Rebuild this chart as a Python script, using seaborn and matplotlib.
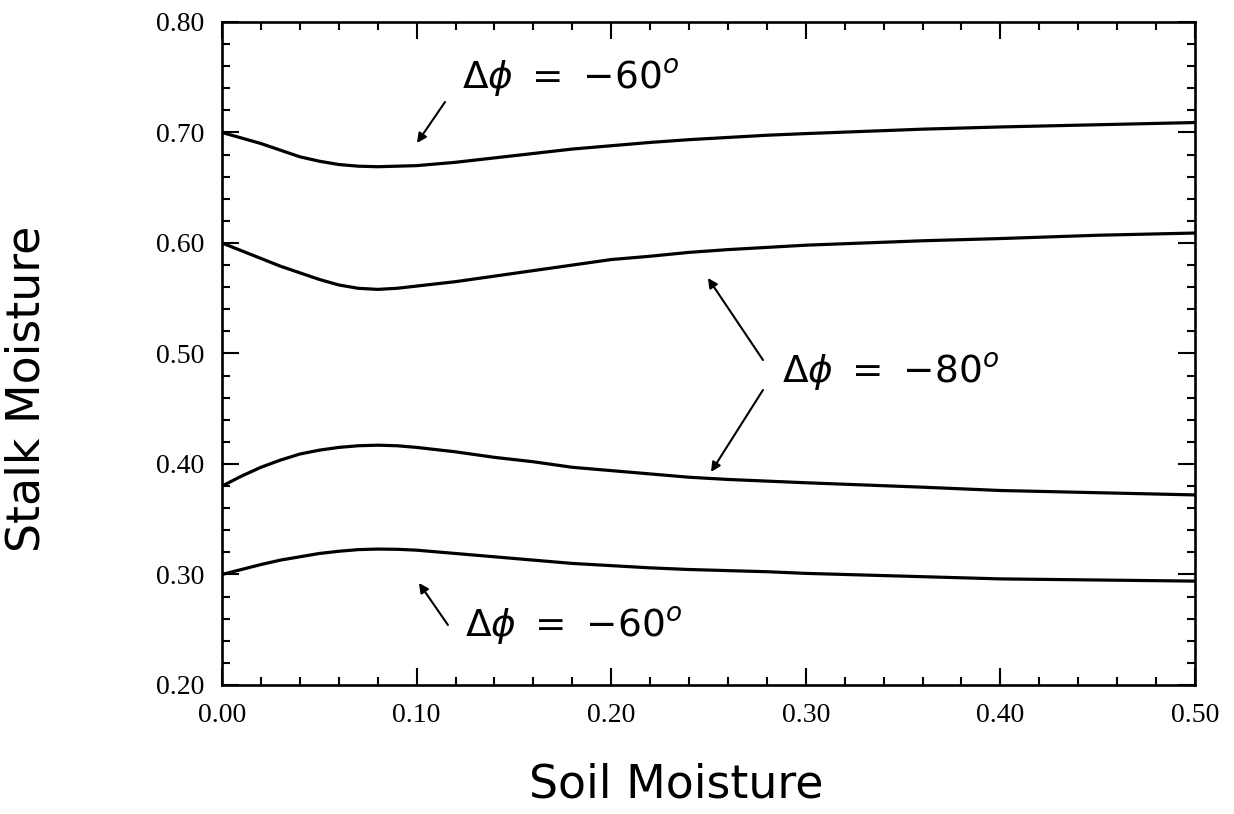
import numpy as np
import pandas as pd
import matplotlib
matplotlib.use("Agg")
import matplotlib.pyplot as plt
from matplotlib.ticker import MultipleLocator, FormatStrFormatter
import seaborn as sns

# ---- data ----
soil_moisture = [0.00, 0.01, 0.02, 0.03, 0.04, 0.05, 0.06, 0.07, 0.08, 0.09,
                 0.10, 0.11, 0.12, 0.13, 0.14, 0.15, 0.16, 0.17, 0.18, 0.19,
                 0.20, 0.22, 0.24, 0.26, 0.28, 0.30, 0.33, 0.36, 0.40, 0.45, 0.50]

stalk_a = [0.700, 0.695, 0.690, 0.684, 0.678, 0.674, 0.671, 0.6695, 0.669, 0.6695,
           0.670, 0.6715, 0.673, 0.675, 0.677, 0.679, 0.681, 0.683, 0.685, 0.6865,
           0.688, 0.691, 0.6935, 0.6955, 0.6975, 0.699, 0.701, 0.703, 0.705, 0.707, 0.709]
stalk_b = [0.600, 0.593, 0.586, 0.579, 0.573, 0.567, 0.562, 0.559, 0.558, 0.559,
           0.561, 0.563, 0.565, 0.5675, 0.570, 0.5725, 0.575, 0.5775, 0.580, 0.5825,
           0.585, 0.588, 0.5915, 0.594, 0.596, 0.598, 0.600, 0.602, 0.604, 0.607, 0.609]
stalk_c = [0.380, 0.389, 0.397, 0.4035, 0.409, 0.4125, 0.415, 0.4165, 0.417, 0.4165,
           0.415, 0.413, 0.411, 0.4085, 0.406, 0.404, 0.402, 0.3995, 0.397, 0.3955,
           0.394, 0.391, 0.388, 0.386, 0.3845, 0.383, 0.381, 0.379, 0.376, 0.374, 0.372]
stalk_d = [0.300, 0.3045, 0.309, 0.313, 0.316, 0.319, 0.321, 0.3225, 0.323, 0.3228,
           0.322, 0.3205, 0.319, 0.3175, 0.316, 0.3145, 0.313, 0.3115, 0.310, 0.309,
           0.308, 0.306, 0.3045, 0.3035, 0.3025, 0.301, 0.2995, 0.298, 0.296, 0.295, 0.294]

curve_names = ["A", "B", "C", "D"]
curve_values = [stalk_a, stalk_b, stalk_c, stalk_d]

x_ticks = [0.00, 0.10, 0.20, 0.30, 0.40, 0.50]
y_ticks = [0.20, 0.30, 0.40, 0.50, 0.60, 0.70, 0.80]

label_60 = r"$\Delta\phi\ =\ {-}60^{o}$"
label_80 = r"$\Delta\phi\ =\ {-}80^{o}$"

df = pd.concat(
    [pd.DataFrame({"soil": soil_moisture, "stalk": v, "curve": n})
     for n, v in zip(curve_names, curve_values)],
    ignore_index=True,
)

# ---- style ----
sns.set_theme(style="ticks")
plt.rcParams["font.family"] = ["DejaVu Sans"]
plt.rcParams["mathtext.fontset"] = "dejavusans"

fig = plt.figure(figsize=(12.34, 8.14), dpi=100)
ax = fig.add_axes([0.1799, 0.1585, 0.7885, 0.8145])

sns.lineplot(data=df, x="soil", y="stalk", hue="curve", units="curve",
             estimator=None, palette=["black"] * 4, linewidth=2.3,
             legend=False, ax=ax, sort=False)

ax.set_xlim(0.0, 0.5)
ax.set_ylim(0.2, 0.8)
ax.set_xticks(x_ticks)
ax.set_yticks(y_ticks)
ax.xaxis.set_minor_locator(MultipleLocator(0.02))
ax.yaxis.set_minor_locator(MultipleLocator(0.02))
ax.xaxis.set_major_formatter(FormatStrFormatter("%.2f"))
ax.yaxis.set_major_formatter(FormatStrFormatter("%.2f"))

ax.tick_params(which="both", direction="in", top=True, right=True,
               color="black", width=1.5)
ax.tick_params(which="major", length=12.5, pad=13)
ax.tick_params(which="minor", length=6)
for lab in ax.get_xticklabels() + ax.get_yticklabels():
    lab.set_family("Liberation Serif")
    lab.set_fontsize(20)
    lab.set_color("black")

for s in ax.spines.values():
    s.set_visible(True)
    s.set_linewidth(1.9)
    s.set_color("black")

ax.set_xlabel("Soil Moisture", fontsize=33, color="black", va="center")
ax.set_ylabel("Stalk Moisture", fontsize=33, color="black", va="center")
ax.xaxis.set_label_coords(0.467, -0.151)
ax.yaxis.set_label_coords(-0.200, 0.4465)

# ---- annotations ----
txt_kw = dict(fontsize=27, color="black", ha="left", va="center")
arrow_kw = dict(arrowstyle="-|>", color="black", lw=1.5,
                mutation_scale=14, shrinkA=0, shrinkB=0)

ax.text(0.1233, 0.7493, label_60, **txt_kw)
ax.annotate("", xy=(0.1002, 0.6905), xytext=(0.1146, 0.7276), arrowprops=arrow_kw)

ax.text(0.2878, 0.4833, label_80, **txt_kw)
ax.annotate("", xy=(0.2497, 0.5683), xytext=(0.2780, 0.4941), arrowprops=arrow_kw)
ax.annotate("", xy=(0.2513, 0.3928), xytext=(0.2780, 0.4670), arrowprops=arrow_kw)

ax.text(0.1249, 0.2534, label_60, **txt_kw)
ax.annotate("", xy=(0.1012, 0.2923), xytext=(0.1161, 0.2543), arrowprops=arrow_kw)

fig.savefig("out.png", dpi=100, facecolor="white")
